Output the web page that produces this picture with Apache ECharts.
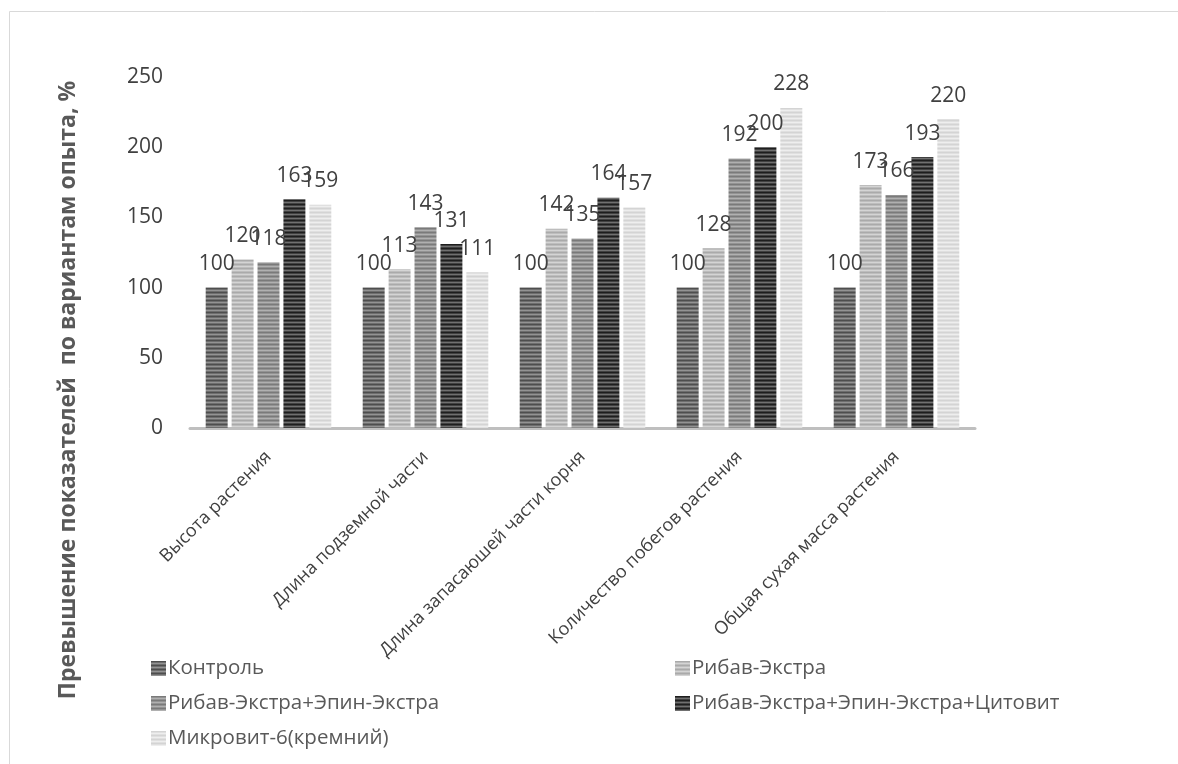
<!DOCTYPE html>
<html>
<head>
<meta charset="utf-8">
<script src="https://cdn.jsdelivr.net/npm/echarts@6/dist/echarts.min.js"></script>
<style>
  html, body { margin: 0; padding: 0; background: #fff; }
  #chart { width: 1178px; height: 764px; }
</style>
</head>
<body>
<div id="chart"></div>
<script>
const categories = ['Высота растения', 'Длина подземной части', 'Длина запасаюшей части корня', 'Количество побегов растения', 'Общая сухая масса растения'];
const seriesNames = ['Контроль', 'Рибав-Экстра', 'Рибав-Экстра+Эпин-Экстра', 'Рибав-Экстра+Эпин-Экстра+Цитовит', 'Микровит-6(кремний)'];
const kontrol = [100, 100, 100, 100, 100];
const ribav = [120, 113, 142, 128, 173];
const ribavEpin = [118, 143, 135, 192, 166];
const ribavEpinCitovit = [163, 131, 164, 200, 193];
const mikrovit = [159, 111, 157, 228, 220];
const yTicks = [0, 50, 100, 150, 200, 250];

// horizontal stripe fills
function stripes(dark, mid, light) {
  const c = document.createElement('canvas');
  c.width = 4; c.height = 4;
  const g = c.getContext('2d');
  [dark, mid, light, mid].forEach((col, i) => {
    g.fillStyle = col;
    g.fillRect(0, i, 4, 1);
  });
  return { image: c, repeat: 'repeat' };
}

const fills = [
  stripes('#4e4e4e', '#6e6e6e', '#939393'),
  stripes('#aaaaaa', '#bdbdbd', '#d4d4d4'),
  stripes('#7a7a7a', '#939393', '#b0b0b0'),
  stripes('#1e1e1e', '#414141', '#707070'),
  stripes('#d4d4d4', '#e0e0e0', '#eeeeee')
];
const values = [kontrol, ribav, ribavEpin, ribavEpinCitovit, mikrovit];

const myChart = echarts.init(document.getElementById('chart'));

const textFont = '"Open Sans", sans-serif';

const legendBase = {
  orient: 'vertical',
  top: 653,
  itemGap: 14,
  itemWidth: 15,
  itemHeight: 15,
  icon: 'rect',
  textStyle: { color: '#595959', fontSize: 20.5, padding: [0, 0, 0, -3] }
};

myChart.setOption({
  animation: false,
  textStyle: { fontFamily: textFont },
  grid: {
    left: 190,
    right: 203,
    top: 77,
    bottom: 336,
    containLabel: false
  },
  graphic: [
    {
      type: 'rect',
      shape: { x: 9.5, y: 11.5, width: 1300, height: 900 },
      style: { fill: 'none', stroke: '#d9d9d9', lineWidth: 1 },
      silent: true
    },
    {
      type: 'text',
      x: 68,
      y: 390,
      rotation: Math.PI / 2,
      style: {
        text: 'Превышение показателей  по вариантам опыта, %',
        font: 'bold 23px ' + textFont,
        fill: '#595959',
        align: 'center',
        verticalAlign: 'middle'
      }
    }
  ],
  legend: [
    Object.assign({ data: [seriesNames[0], seriesNames[2], seriesNames[4]], left: 146 }, legendBase),
    Object.assign({ data: [seriesNames[1], seriesNames[3]], left: 670 }, legendBase)
  ],
  xAxis: {
    type: 'category',
    data: categories,
    axisLine: { lineStyle: { color: '#bfbfbf', width: 3 } },
    axisTick: { show: false },
    axisLabel: {
      rotate: 45,
      interval: 0,
      color: '#404040',
      fontSize: 18,
      margin: 26
    }
  },
  yAxis: {
    type: 'value',
    min: yTicks[0],
    max: yTicks[yTicks.length - 1],
    interval: 50,
    splitLine: { show: false },
    axisLine: { show: false },
    axisTick: { show: false },
    axisLabel: { color: '#404040', fontSize: 21, margin: 27 }
  },
  series: seriesNames.map((name, i) => ({
    name: name,
    type: 'bar',
    data: values[i],
    barGap: '18%',
    barCategoryGap: '20%',
    itemStyle: { color: fills[i] },
    label: {
      show: true,
      position: 'top',
      distance: 13,
      color: '#404040',
      fontSize: 21
    }
  }))
});
</script>
</body>
</html>
